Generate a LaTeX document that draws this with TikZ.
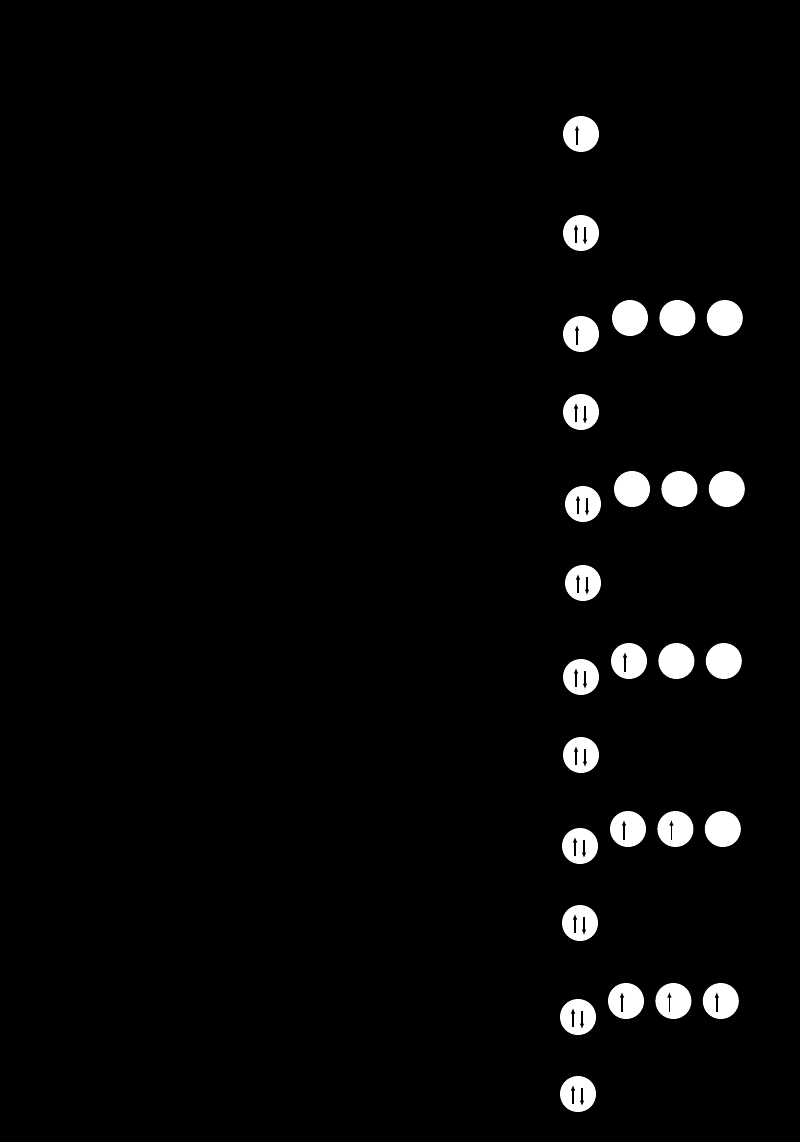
\documentclass[tikz,border=0pt]{standalone}
\usetikzlibrary{positioning}
\usetikzlibrary{arrows.meta}
\tikzset{>=latex}
\tikzset{orb/.style={circle, fill=white, minimum size=36pt, inner sep=0pt},
  spin/.style={-{Latex[length=5.5pt,width=4.5pt]}, line width=1.4pt}}

% one electron, spin up
\newcommand{\spinup}[1]{%
  \draw[spin] ([xshift=-4pt,yshift=-11pt]#1.center) -- ([xshift=-4pt,yshift=9pt]#1.center);}
% two electrons, paired spins
\newcommand{\spinpair}[1]{%
  \draw[spin] ([xshift=-5pt,yshift=-10pt]#1.center) -- ([xshift=-5pt,yshift=9pt]#1.center);
  \draw[spin] ([xshift=4pt,yshift=6pt]#1.center) -- ([xshift=4pt,yshift=-12pt]#1.center);}

\begin{document}
\begin{tikzpicture}[x=1pt, y=-1pt]

% Background
\fill[black] (0,0) rectangle (800,1142);
\useasboundingbox (0,0) rectangle (800,1142);

% H
\node[orb] (H1s) at (581,134) {};
\spinup{H1s}

% He
\node[orb] (He1s) at (581,233) {};
\spinpair{He1s}

% B : 2s and 2p
\node[orb] (Bs) at (581,334) {};
\spinup{Bs}
\node[orb] (Bpa) at (630,318) {};
\node[orb, right=11pt of Bpa] (Bpb) {};
\node[orb, right=11pt of Bpb] (Bpc) {};

\node[orb] (Bc) at (581,412) {};
\spinpair{Bc}

% C : 2s and 2p
\node[orb] (Cs) at (583,504) {};
\spinpair{Cs}
\node[orb] (Cpa) at (632,489) {};
\node[orb, right=11pt of Cpa] (Cpb) {};
\node[orb, right=11pt of Cpb] (Cpc) {};

\node[orb] (Cc) at (583,583) {};
\spinpair{Cc}

% N : one p electron
\node[orb] (Ns) at (581,677) {};
\spinpair{Ns}
\node[orb] (Npa) at (629,661) {};
\node[orb, right=11pt of Npa] (Npb) {};
\node[orb, right=11pt of Npb] (Npc) {};
\spinup{Npa}

\node[orb] (Nc) at (581,755) {};
\spinpair{Nc}

% O : two p electrons
\node[orb] (Os) at (580,846) {};
\spinpair{Os}
\node[orb] (Opa) at (628,829) {};
\node[orb, right=11pt of Opa] (Opb) {};
\node[orb, right=11pt of Opb] (Opc) {};
\spinup{Opa}
\spinup{Opb}

\node[orb] (Oc) at (580,923) {};
\spinpair{Oc}

% F : three p electrons
\node[orb] (Fs) at (578,1017) {};
\spinpair{Fs}
\node[orb] (Fpa) at (626,1001) {};
\node[orb, right=11pt of Fpa] (Fpb) {};
\node[orb, right=11pt of Fpb] (Fpc) {};
\spinup{Fpa}
\spinup{Fpb}
\spinup{Fpc}

\node[orb] (Fc) at (578,1094) {};
\spinpair{Fc}

\end{tikzpicture}
\end{document}
